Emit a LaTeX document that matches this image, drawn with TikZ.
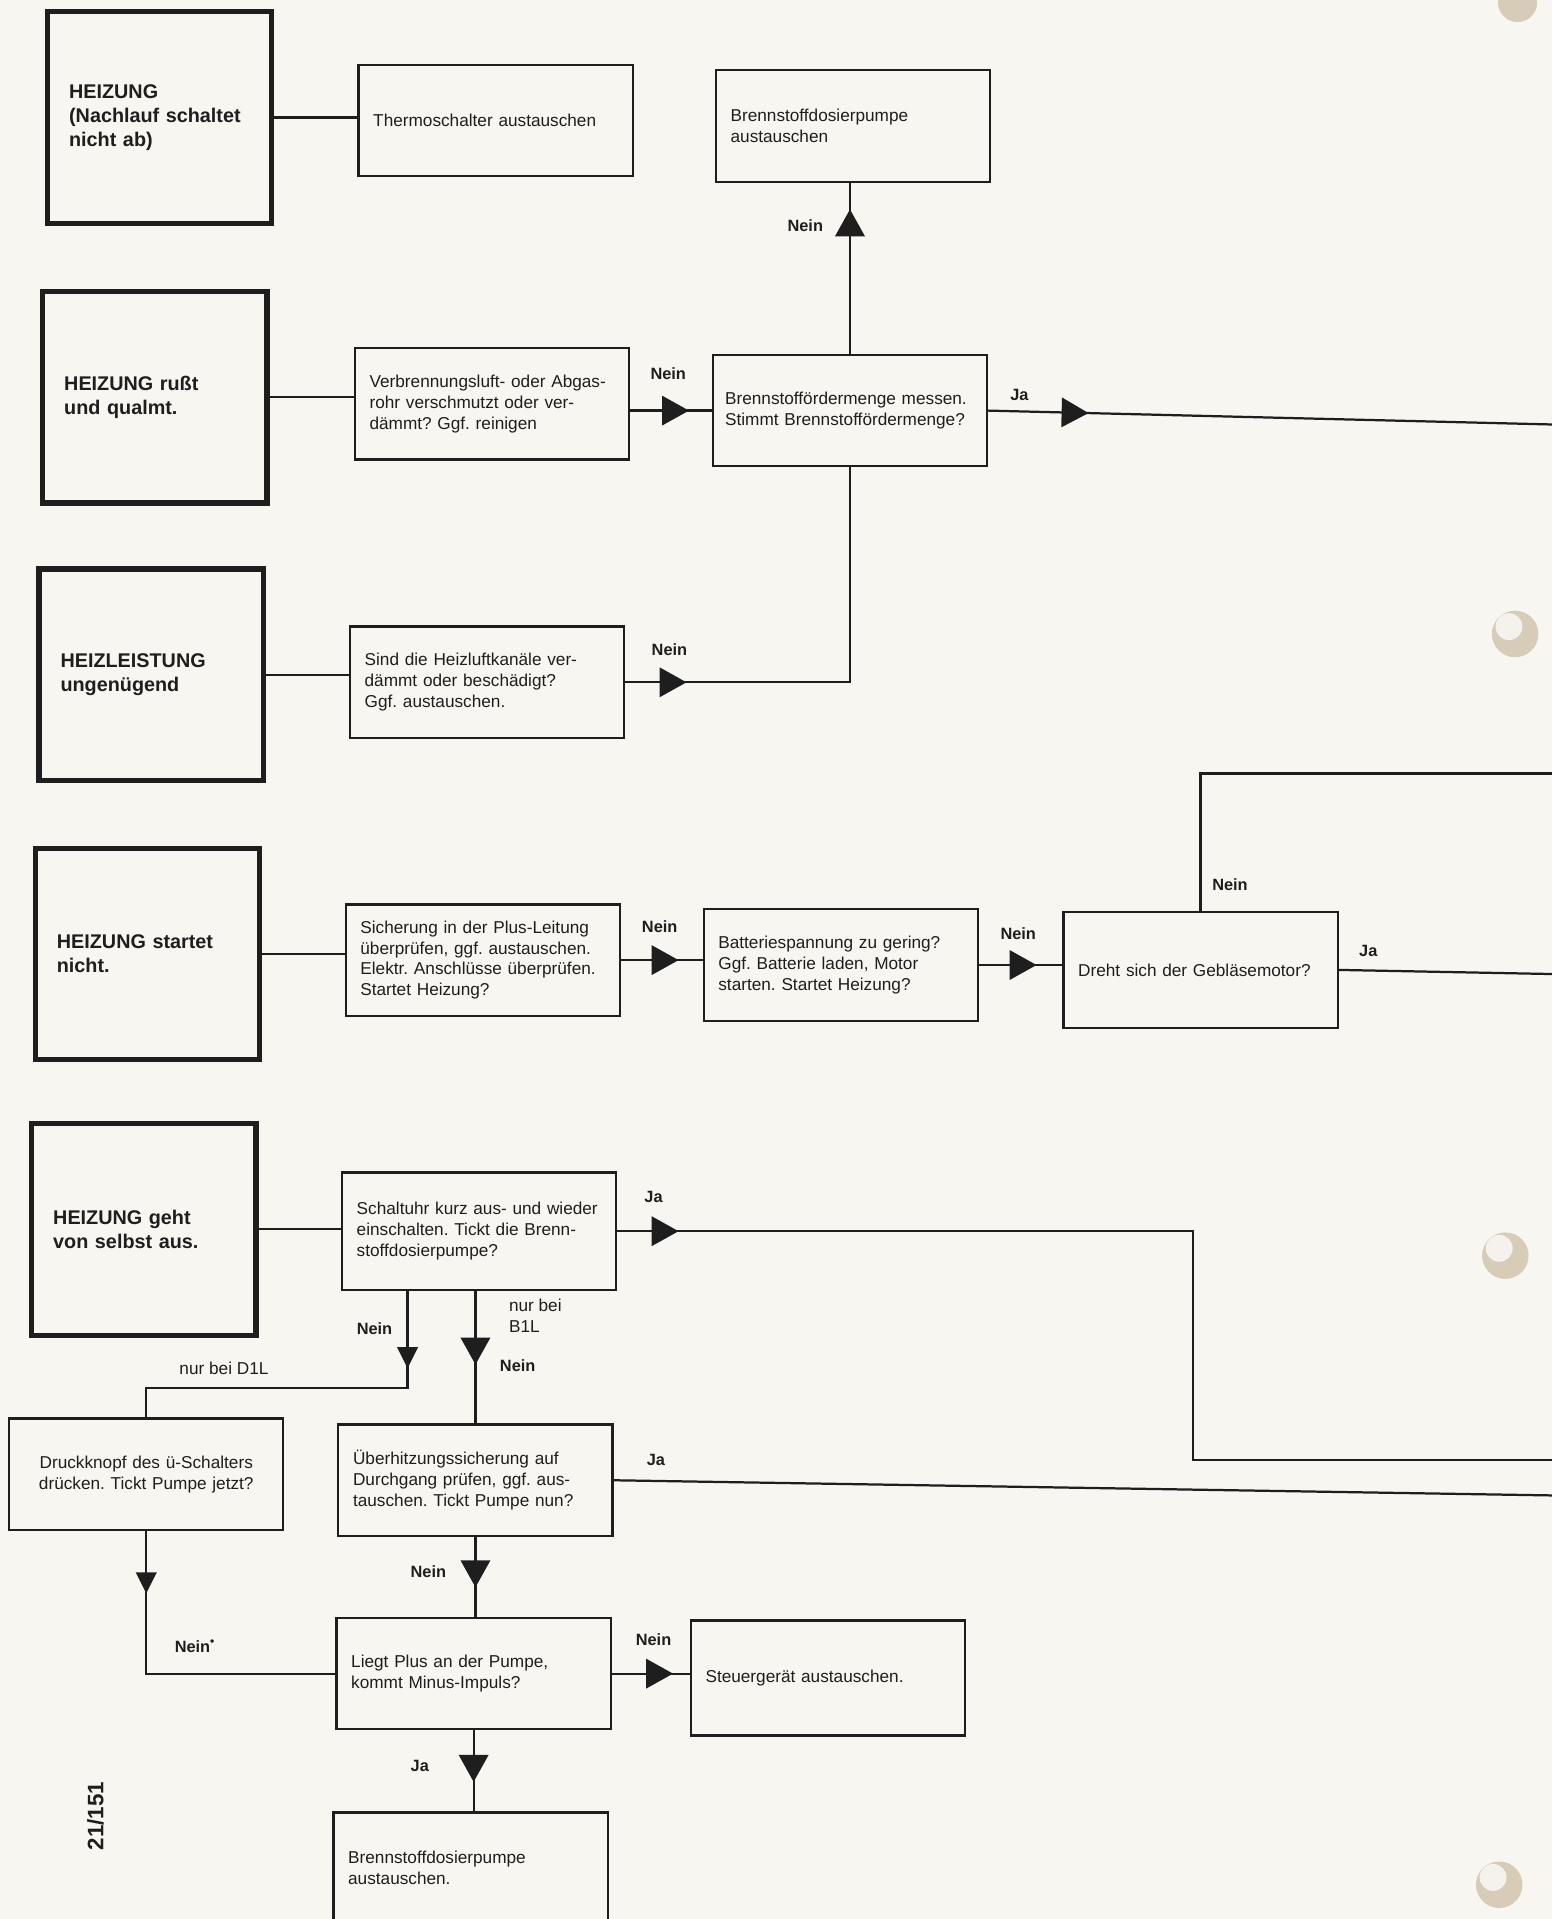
\documentclass[tikz,border=0pt]{standalone}
\usepackage{fontspec}
\setmainfont{Liberation Sans}
\usetikzlibrary{arrows.meta,decorations.markings}
\frenchspacing

\definecolor{paper}{RGB}{248,246,240}
\definecolor{ink}{RGB}{30,30,30}
\definecolor{holec}{RGB}{214,204,184}

\begin{document}
\begin{tikzpicture}[x=0.025cm,y=-0.025cm,line width=1.3pt,draw=ink,text=ink]
  \tikzstyle{fault}=[draw,line width=3pt,minimum width=4.575cm,minimum height=4.325cm,
    text width=3.7cm,inner xsep=0.44cm,align=left,font=\fontsize{11.5}{14}\selectfont\bfseries]
  \tikzstyle{box}=[draw,line width=1.3pt,minimum width=5.6cm,minimum height=2.275cm,
    text width=5.0cm,inner xsep=0.3cm,align=left,font=\fontsize{10}{12.1}\selectfont]
  \tikzstyle{lbl}=[font=\fontsize{9.5}{11}\selectfont\bfseries,inner sep=0pt]
  \tikzstyle{note}=[font=\fontsize{10}{12.1}\selectfont,inner sep=0pt,align=left]
  \tikzstyle{tri}=[postaction=decorate,decoration={markings,
    mark=at position #1 with {\arrow[ink]{Triangle[length=0.55cm,width=0.6cm]}}}]
  \tikzstyle{smalltri}=[postaction=decorate,decoration={markings,
    mark=at position #1 with {\arrow[ink]{Triangle[length=0.43cm,width=0.42cm]}}}]

  \useasboundingbox (0,0) rectangle (1268,1568);
  \fill[paper] (0,0) rectangle (1268,1568);

  % punched holes of the sheet
  \fill[holec] (1240,2) circle (16);
  \fill[holec] (1238,518) circle (19);
  \fill[holec] (1230,1026) circle (19);
  \fill[holec] (1225,1540) circle (19);
  \fill[white!75!holec] (1233,512) circle (11);
  \fill[white!75!holec] (1225,1020) circle (11);
  \fill[white!75!holec] (1220,1534) circle (11);

  % faults
  \node[fault] (H1) at (130.5,96) {HEIZUNG\\(Nachlauf schaltet\\nicht ab)};
  \node[fault] (H2) at (126.5,324.5) {HEIZUNG rußt\\und qualmt.};
  \node[fault] (H3) at (123.5,551.5) {HEIZLEISTUNG\\ungenügend};
  \node[fault] (H4) at (120.5,779.5) {HEIZUNG startet\\nicht.};
  \node[fault] (H5) at (117.5,1004.5) {HEIZUNG geht\\von selbst aus.};

  % checks and remedies
  \node[box] (A1) at (405,98.5) {Thermoschalter austauschen};
  \node[box] (A2) at (697,103) {Brennstoffdosierpumpe\\austauschen};
  \node[box] (B1) at (402,330) {Verbrennungsluft- oder Abgas-\\rohr verschmutzt oder ver-\\dämmt? Ggf. reinigen};
  \node[box,text width=5.1cm,inner xsep=0.25cm] (B2) at (694.5,335.5) {Brennstoffördermenge messen.\\Stimmt Brennstoffördermenge?};
  \node[box] (C1) at (398,557.5) {Sind die Heizluftkanäle ver-\\dämmt oder beschädigt?\\Ggf. austauschen.};
  \node[box] (D1) at (394.5,784.5) {Sicherung in der Plus-Leitung\\überprüfen, ggf. austauschen.\\Elektr. Anschlüsse überprüfen.\\Startet Heizung?};
  \node[box] (D2) at (687,788.5) {Batteriespannung zu gering?\\Ggf. Batterie laden, Motor\\starten. Startet Heizung?};
  \node[box,minimum height=2.375cm] (D3) at (981,792.5) {Dreht sich der Gebläsemotor?};
  \node[box,minimum height=2.4cm] (E1) at (391.5,1006) {Schaltuhr kurz aus- und wieder\\einschalten. Tickt die Brenn-\\stoffdosierpumpe?};
  \node[box,align=center] (F1) at (119.5,1204.5) {Druckknopf des ü-Schalters\\drücken. Tickt Pumpe jetzt?};
  \node[box] (F2) at (388.5,1209.5) {Überhitzungssicherung auf\\Durchgang prüfen, ggf. aus-\\tauschen. Tickt Pumpe nun?};
  \node[box] (G1) at (387,1367.5) {Liegt Plus an der Pumpe,\\kommt Minus-Impuls?};
  \node[box,minimum height=2.35cm] (G2) at (676.5,1371) {Steuergerät austauschen.};
  \node[box,minimum height=2.25cm] (K) at (384.5,1526) {Brennstoffdosierpumpe\\austauschen.};

  % loose ends at the right edge
  \coordinate (outA) at (1275,347);
  \coordinate (outB) at (1275,632);
  \coordinate (outC) at (1275,796);
  \coordinate (bendE) at (975,1016);
  \coordinate (outD) at (1275,1193);
  \coordinate (outF) at (1275,1222);
  \coordinate (kD) at (333,1134);

  % connectors
  \draw (H1.east) -- (H1.east -| A1.west);
  \draw (H2.east) -- (H2.east -| B1.west);
  \draw (H3.east) -- (H3.east -| C1.west);
  \draw (H4.east) -- (H4.east -| D1.west);
  \draw (H5.east) -- (H5.east -| E1.west);
  \draw[tri=1.2cm] (B1.east |- B2.west) -- (B2.west);
  \draw[tri=2.95cm] (B2.north) -- (B2.north |- A2.south);
  \draw[tri=2.05cm] (B2.east) -- (outA);
  \draw[tri=1.25cm] (C1.east) -| (B2.south);
  \draw[tri=1.175cm] (D1.east) -- (D1.east -| D2.west);
  \draw[tri=1.175cm] (D2.east) -- (D2.east -| D3.west);
  \draw (D3.north) |- (outB);
  \draw (D3.east) -- (outC);
  \draw[tri=1.25cm] (E1.east) -- (E1.east -| bendE) -- (bendE |- outD) -- (outD);
  \draw[smalltri=1.575cm] (kD |- E1.south) -- (kD) -| (F1.north);
  \draw[tri=1.5cm] (F2.north |- E1.south) -- (F2.north);
  \draw (F2.east) -- (outF);
  \draw[smalltri=1.275cm] (F1.south) |- (G1.west);
  \draw[tri=1.025cm] (F2.south) -- (F2.south |- G1.north);
  \draw[tri=1.25cm] (G1.east) -- (G1.east -| G2.west);
  \draw[tri=1.05cm] (G1.south) -- (G1.south |- K.north);

  % answers
  \node[lbl] (l1) at (546,305) {Nein};
  \node[lbl] (l2) at (658,184) {Nein};
  \node[lbl] (l3) at (833,323) {Ja};
  \node[lbl] (l4) at (547,531) {Nein};
  \node[lbl] (l5) at (539,757) {Nein};
  \node[lbl] (l6) at (832,763) {Nein};
  \node[lbl] (l7) at (1005,723) {Nein};
  \node[lbl] (l8) at (1118,777) {Ja};
  \node[lbl] (l9) at (534,978) {Ja};
  \node[lbl] (l10) at (306,1086) {Nein};
  \node[note] (l11) at (183,1118) {nur bei D1L};
  \node[note,anchor=west] (l12) at (415,1075) {nur bei\\B1L};
  \node[lbl] (l13) at (423,1116) {Nein};
  \node[lbl] (l14) at (536,1193) {Ja};
  \node[lbl] (l15) at (159,1345) {Nein\raisebox{0.8ex}{\scriptsize\textbullet}};
  \node[lbl] (l16) at (350,1284) {Nein};
  \node[lbl] (l17) at (534,1340) {Nein};
  \node[lbl] (l18) at (343,1443) {Ja};

  \node[rotate=90,font=\fontsize{13}{13}\selectfont\bfseries] (pg) at (78,1484) {21/151};
\end{tikzpicture}
\end{document}
